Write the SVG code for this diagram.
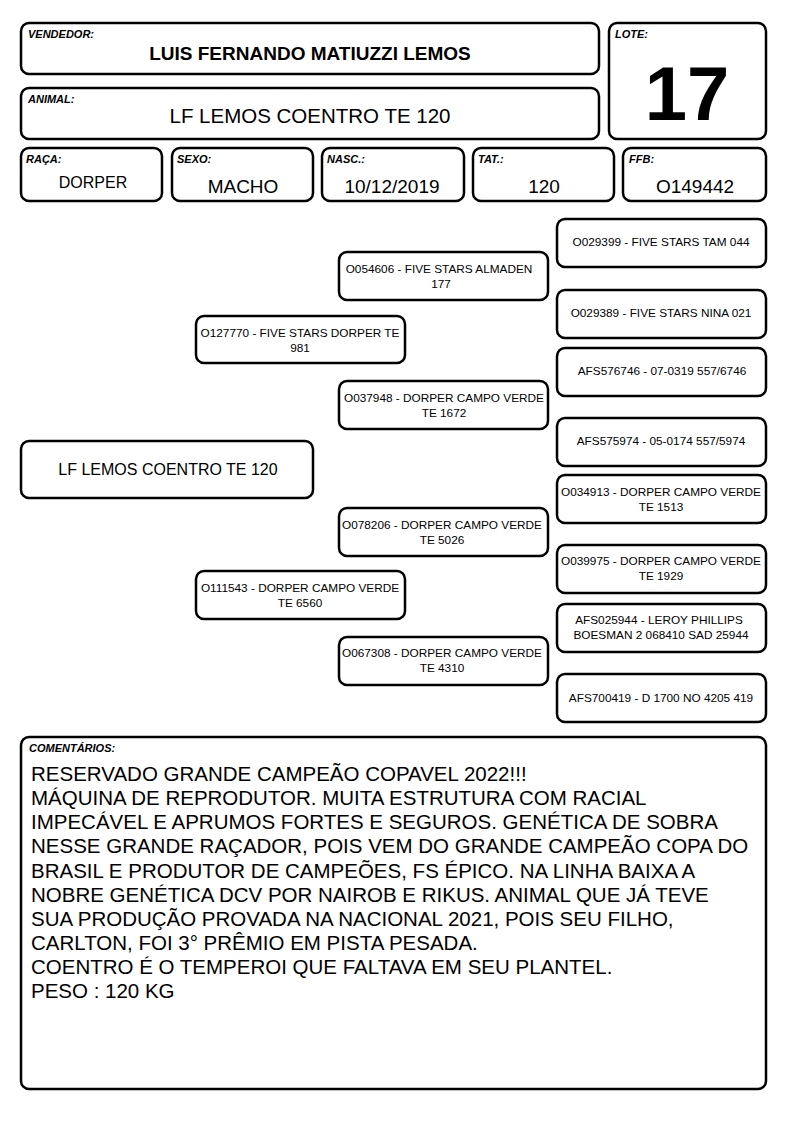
<svg xmlns="http://www.w3.org/2000/svg" width="794" height="1123" viewBox="0 0 794 1123">
<style>
.b{fill:#fff;stroke:#000;stroke-width:2.5}
.lb{font-family:"Liberation Sans",Arial,sans-serif;font-size:11px;font-weight:bold;font-style:italic}
.v{font-family:"Liberation Sans",Arial,sans-serif;font-size:19px;text-anchor:middle}
.v16{font-size:16px}
.p{font-family:"Liberation Sans",Arial,sans-serif;font-size:11.8px;text-anchor:middle}
.c{font-family:"Liberation Sans",Arial,sans-serif;font-size:20.5px}
</style>
<rect width="794" height="1123" fill="#fff"/>
<g id="vendedor"><rect class="b" x="21" y="23" width="578" height="51" rx="8"/><text class="lb" x="28" y="38">VENDEDOR:</text><text x="310" y="60" text-anchor="middle" font-family="Liberation Sans, Arial, sans-serif" font-size="19" font-weight="bold">LUIS FERNANDO MATIUZZI LEMOS</text></g>
<g id="lote"><rect class="b" x="609" y="23" width="157" height="116" rx="8"/><text class="lb" x="615" y="38">LOTE:</text><text x="687" y="120" text-anchor="middle" font-family="Liberation Sans, Arial, sans-serif" font-size="76" font-weight="bold">17</text></g>
<g id="animal"><rect class="b" x="21" y="88" width="578" height="51" rx="8"/><text class="lb" x="28" y="103">ANIMAL:</text><text x="310" y="123" text-anchor="middle" font-family="Liberation Sans, Arial, sans-serif" font-size="20.5">LF LEMOS COENTRO TE 120</text></g>
<g id="raca"><rect class="b" x="21" y="148" width="141" height="53" rx="8"/><text class="lb" x="26" y="163">RAÇA:</text><text class="v v16" x="93" y="188">DORPER</text></g>
<g id="sexo"><rect class="b" x="172" y="148" width="141" height="53" rx="8"/><text class="lb" x="177" y="163">SEXO:</text><text class="v" x="243" y="193">MACHO</text></g>
<g id="nasc"><rect class="b" x="322" y="148" width="142" height="53" rx="8"/><text class="lb" x="327" y="163">NASC.:</text><text class="v" x="392" y="193">10/12/2019</text></g>
<g id="tat"><rect class="b" x="473" y="148" width="141" height="53" rx="8"/><text class="lb" x="478" y="163">TAT.:</text><text class="v" x="544" y="193">120</text></g>
<g id="ffb"><rect class="b" x="623" y="148" width="143" height="53" rx="8"/><text class="lb" x="629" y="163">FFB:</text><text class="v" x="695" y="193">O149442</text></g>
<g id="connectors"></g>
<g id="main"><rect class="b" x="21" y="441" width="292" height="57" rx="8"/><text x="168" y="475" text-anchor="middle" font-family="Liberation Sans, Arial, sans-serif" font-size="16">LF LEMOS COENTRO TE 120</text></g>
<g id="g1a"><rect class="b" x="196" y="316" width="209" height="47" rx="8"/><text class="p" x="300" y="337">O127770 - FIVE STARS DORPER TE</text><text class="p" x="300" y="352">981</text></g>
<g id="g1b"><rect class="b" x="196" y="571" width="209" height="48" rx="8"/><text class="p" x="300" y="592">O111543 - DORPER CAMPO VERDE</text><text class="p" x="300" y="607">TE 6560</text></g>
<g id="g2a"><rect class="b" x="339" y="252" width="209" height="48" rx="8"/><text class="p" x="439" y="273">O054606 - FIVE STARS ALMADEN</text><text class="p" x="441" y="288">177</text></g>
<g id="g2b"><rect class="b" x="339" y="381" width="209" height="48" rx="8"/><text class="p" x="444" y="402">O037948 - DORPER CAMPO VERDE</text><text class="p" x="444" y="417">TE 1672</text></g>
<g id="g2c"><rect class="b" x="339" y="508" width="209" height="48" rx="8"/><text class="p" x="442" y="529">O078206 - DORPER CAMPO VERDE</text><text class="p" x="442" y="544">TE 5026</text></g>
<g id="g2d"><rect class="b" x="339" y="637" width="209" height="48" rx="8"/><text class="p" x="442" y="657">O067308 - DORPER CAMPO VERDE</text><text class="p" x="442" y="672">TE 4310</text></g>
<g id="g3a"><rect class="b" x="557" y="219" width="209" height="48" rx="8"/><text class="p" x="661" y="246">O029399 - FIVE STARS TAM 044</text></g>
<g id="g3b"><rect class="b" x="557" y="290" width="209" height="48" rx="8"/><text class="p" x="661" y="317">O029389 - FIVE STARS NINA 021</text></g>
<g id="g3c"><rect class="b" x="557" y="348" width="209" height="48" rx="8"/><text class="p" x="662" y="375">AFS576746 - 07-0319 557/6746</text></g>
<g id="g3d"><rect class="b" x="557" y="418" width="209" height="48" rx="8"/><text class="p" x="661" y="445">AFS575974 - 05-0174 557/5974</text></g>
<g id="g3e"><rect class="b" x="557" y="475" width="209" height="48" rx="8"/><text class="p" x="661" y="496">O034913 - DORPER CAMPO VERDE</text><text class="p" x="661" y="511">TE 1513</text></g>
<g id="g3f"><rect class="b" x="557" y="545" width="209" height="48" rx="8"/><text class="p" x="661" y="565">O039975 - DORPER CAMPO VERDE</text><text class="p" x="661" y="580">TE 1929</text></g>
<g id="g3g"><rect class="b" x="557" y="604" width="209" height="48" rx="8"/><text class="p" x="659" y="624">AFS025944 - LEROY PHILLIPS</text><text class="p" x="661" y="639">BOESMAN 2 068410 SAD 25944</text></g>
<g id="g3h"><rect class="b" x="557" y="674" width="209" height="48" rx="8"/><text class="p" x="661" y="702">AFS700419 - D 1700 NO 4205 419</text></g>
<g id="comentarios"><rect class="b" x="21" y="737" width="745" height="352" rx="8"/><text class="lb" x="29" y="752">COMENTÁRIOS:</text>
<text class="c" x="31" y="781">RESERVADO GRANDE CAMPEÃO COPAVEL 2022!!!</text>
<text class="c" x="31" y="805">MÁQUINA DE REPRODUTOR. MUITA ESTRUTURA COM RACIAL</text>
<text class="c" x="31" y="829">IMPECÁVEL E APRUMOS FORTES E SEGUROS. GENÉTICA DE SOBRA</text>
<text class="c" x="31" y="853">NESSE GRANDE RAÇADOR, POIS VEM DO GRANDE CAMPEÃO COPA DO</text>
<text class="c" x="31" y="878">BRASIL E PRODUTOR DE CAMPEÕES, FS ÉPICO. NA LINHA BAIXA A</text>
<text class="c" x="31" y="902">NOBRE GENÉTICA DCV POR NAIROB E RIKUS. ANIMAL QUE JÁ TEVE</text>
<text class="c" x="31" y="926">SUA PRODUÇÃO PROVADA NA NACIONAL 2021, POIS SEU FILHO,</text>
<text class="c" x="31" y="950">CARLTON, FOI 3° PRÊMIO EM PISTA PESADA.</text>
<text class="c" x="31" y="974">COENTRO É O TEMPEROI QUE FALTAVA EM SEU PLANTEL.</text>
<text class="c" x="31" y="998">PESO : 120 KG</text>
</g>
</svg>
